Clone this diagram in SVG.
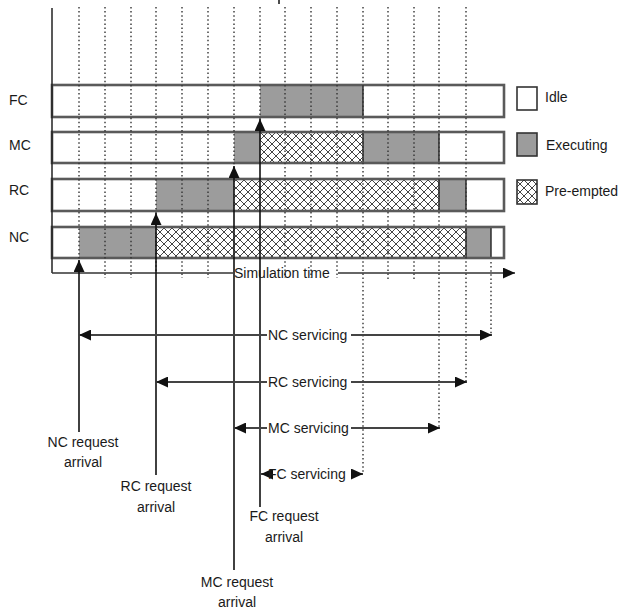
<svg xmlns="http://www.w3.org/2000/svg" width="620" height="611" viewBox="0 0 620 611">
<style>
text{font-family:"Liberation Sans",Arial,sans-serif;font-size:14px;fill:#1a1a1a}
.dot{stroke:#333;stroke-width:1.4;stroke-dasharray:1.5 2.6;fill:none}
.bar{stroke:#5a5a5a;stroke-width:2.6;fill:none}
.idle{fill:#fff}
.exec{fill:#9c9c9c}
.pre{fill:url(#hatch)}
.seg{stroke:#222;stroke-width:1.4}
.arr{stroke:#111;stroke-width:1.6;fill:none}
.svc{stroke:#444;stroke-width:2;fill:none}
.lg{stroke:#333;stroke-width:1.6}
</style>
<defs>
<pattern id="hatch" patternUnits="userSpaceOnUse" width="8" height="8">
<rect width="8" height="8" fill="#fff"/>
<path d="M0,0L8,8M8,0L0,8" stroke="#444" stroke-width="1"/>
</pattern>
<marker id="ah" markerUnits="userSpaceOnUse" markerWidth="12" markerHeight="11" refX="12" refY="5.5" orient="auto">
<path d="M0,0L12,5.5L0,11z" fill="#111"/>
</marker>
</defs>
<rect width="620" height="611" fill="#fff"/>

<g id="bar-FC">
<rect x="52" y="85" width="208" height="32" class="idle"/>
<rect x="260" y="85" width="103" height="32" class="exec"/>
<rect x="363" y="85" width="141" height="32" class="idle"/>
<path d="M363,85V117" class="seg"/>
<rect x="52" y="85" width="452" height="32" class="bar"/>
</g>
<g id="bar-MC">
<rect x="52" y="132" width="182" height="31" class="idle"/>
<rect x="234" y="132" width="26" height="31" class="exec"/>
<rect x="260" y="132" width="103" height="31" class="pre"/>
<rect x="363" y="132" width="76" height="31" class="exec"/>
<rect x="439" y="132" width="65" height="31" class="idle"/>
<path d="M363,132V163M439,132V163" class="seg"/>
<rect x="52" y="132" width="452" height="31" class="bar"/>
</g>
<g id="bar-RC">
<rect x="52" y="179" width="104" height="32" class="idle"/>
<rect x="156" y="179" width="78" height="32" class="exec"/>
<rect x="234" y="179" width="205" height="32" class="pre"/>
<rect x="439" y="179" width="27" height="32" class="exec"/>
<rect x="466" y="179" width="38" height="32" class="idle"/>
<path d="M439,179V211M466,179V211" class="seg"/>
<rect x="52" y="179" width="452" height="32" class="bar"/>
</g>
<g id="bar-NC">
<rect x="52" y="227" width="27" height="31" class="idle"/>
<rect x="79" y="227" width="77" height="31" class="exec"/>
<rect x="156" y="227" width="310" height="31" class="pre"/>
<rect x="466" y="227" width="25" height="31" class="exec"/>
<rect x="491" y="227" width="13" height="31" class="idle"/>
<path d="M466,227V258M491,227V258" class="seg"/>
<rect x="52" y="227" width="452" height="31" class="bar"/>
</g>

<g id="gridlines">
<path class="dot" d="M79,7V272M105,7V278M131,7V278M156,7V272M182,7V278M208,7V278M234,7V170M260,7V122M285,7V278M311,7V278M337,7V278M363,7V474M388,7V280M414,7V280M439,7V428M466,7V382M491,262V335"/>
<path d="M279,0V4" stroke="#111" stroke-width="1.5"/>
</g>

<g id="row-labels">
<text x="9" y="105">FC</text>
<text x="9" y="150">MC</text>
<text x="9" y="195">RC</text>
<text x="9" y="242">NC</text>
</g>

<g id="legend">
<rect x="517" y="87" width="20" height="23" class="lg" fill="#fff"/>
<text x="545" y="102">Idle</text>
<rect x="517" y="133" width="20" height="23" class="lg exec"/>
<text x="546" y="150">Executing</text>
<rect x="517" y="180" width="20" height="24" class="lg pre"/>
<text x="545" y="196">Pre-empted</text>
</g>

<g id="axes">
<path d="M52,8V273" stroke="#222" stroke-width="1.5"/>
<path d="M52,273H233" stroke="#333" stroke-width="1.6"/>
<path d="M338,273H515" stroke="#333" stroke-width="1.6" marker-end="url(#ah)"/>
<text x="234" y="278">Simulation time</text>
</g>

<g id="connectors">
<path class="arr" d="M79,432V260" marker-end="url(#ah)"/>
<path class="arr" d="M156,475V213" marker-end="url(#ah)"/>
<path class="arr" d="M234,570V166" marker-end="url(#ah)"/>
<path class="arr" d="M260,507V119" marker-end="url(#ah)"/>
<path class="svc" d="M267,335H79" marker-end="url(#ah)"/>
<path class="svc" d="M351,335H492" marker-end="url(#ah)"/>
<path class="svc" d="M267,382H156" marker-end="url(#ah)"/>
<path class="svc" d="M351,382H467" marker-end="url(#ah)"/>
<path class="svc" d="M267,428H234" marker-end="url(#ah)"/>
<path class="svc" d="M351,428H440" marker-end="url(#ah)"/>
<path class="svc" d="M268,474H261" marker-end="url(#ah)"/>
<path class="svc" d="M352,474H363" marker-end="url(#ah)"/>
</g>

<g id="service-labels">
<text x="268" y="340">NC servicing</text>
<text x="268" y="387">RC servicing</text>
<text x="268" y="433">MC servicing</text>
<text x="268" y="479">FC servicing</text>
</g>

<g id="arrival-labels" text-anchor="middle">
<text x="83" y="447">NC request</text>
<text x="83" y="467">arrival</text>
<text x="156" y="491">RC request</text>
<text x="156" y="512">arrival</text>
<text x="284" y="521">FC request</text>
<text x="284" y="542">arrival</text>
<text x="237" y="587">MC request</text>
<text x="237" y="607">arrival</text>
</g>
</svg>
